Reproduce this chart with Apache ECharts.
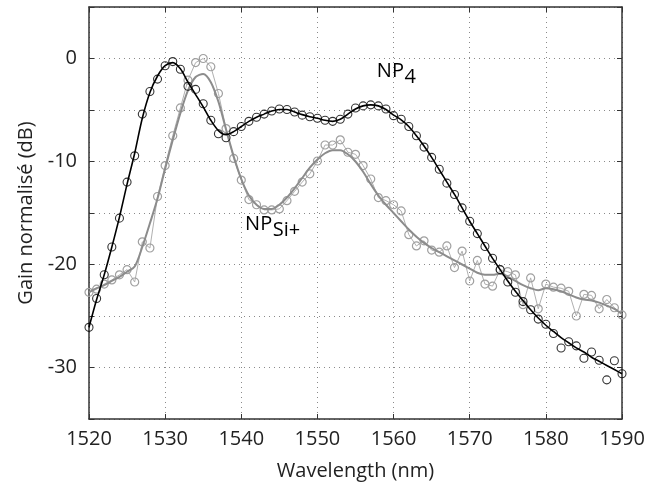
<!DOCTYPE html>
<html>
<head>
<meta charset="utf-8">
<script src="https://cdn.jsdelivr.net/npm/echarts@6/dist/echarts.min.js"></script>
<style>
html,body{margin:0;padding:0;background:#fff;}
#c{width:653px;height:486px;}
</style>
</head>
<body>
<div id="c"></div>
<script>
// Wavelengths (nm), 1 nm steps
var wavelengths = [];
for (var w = 1520; w <= 1590; w++) wavelengths.push(w);

// NP4 measured points (dB)
var np4Markers = [-26.1,-23.3,-21.0,-18.3,-15.5,-12.0,-9.45,-5.4,-3.2,-2.0,
  -0.7,-0.3,-1.05,-2.7,-3.0,-4.4,-6.0,-7.3,-7.7,-7.1,
  -6.6,-6.1,-5.7,-5.4,-5.1,-4.9,-4.95,-5.2,-5.5,-5.65,
  -5.8,-6.0,-6.1,-5.9,-5.4,-4.8,-4.6,-4.5,-4.6,-4.9,
  -5.55,-5.9,-6.6,-7.5,-8.6,-9.6,-10.75,-12.1,-13.2,-14.5,
  -15.8,-17.0,-18.25,-19.4,-20.5,-21.7,-22.7,-23.6,-24.4,-25.3,
  -25.8,-26.7,-28.1,-27.5,-27.9,-29.1,-28.5,-29.3,-31.2,-29.35,
  -30.6];
// NP4 smoothed fit (dB)
var np4Fit = [-26.1,-23.4,-21.0,-18.3,-15.4,-12.2,-9.2,-5.8,-3.3,-1.7,
  -0.7,-0.4,-1.0,-2.3,-3.5,-4.7,-6.0,-7.0,-7.4,-7.1,
  -6.6,-6.1,-5.7,-5.4,-5.1,-4.95,-4.95,-5.2,-5.45,-5.65,
  -5.8,-6.0,-6.1,-5.9,-5.4,-4.9,-4.6,-4.5,-4.6,-4.95,
  -5.5,-5.95,-6.6,-7.5,-8.5,-9.6,-10.8,-12.0,-13.2,-14.5,
  -15.8,-17.0,-18.2,-19.4,-20.5,-21.6,-22.6,-23.5,-24.4,-25.2,
  -25.9,-26.5,-27.1,-27.6,-28.1,-28.5,-29.0,-29.4,-29.8,-30.2,
  -30.6];
// NP Si+ measured points (dB)
var npSiMarkers = [-22.7,-22.4,-21.9,-21.5,-21.0,-20.5,-21.7,-17.8,-18.4,-13.4,
  -10.4,-7.5,-4.8,-2.1,-0.4,0.0,-0.8,-3.4,-6.8,-9.7,
  -11.8,-13.7,-14.2,-14.7,-14.7,-14.6,-13.8,-12.9,-12.0,-11.2,
  -9.95,-8.4,-8.4,-7.9,-9.1,-9.3,-10.4,-11.7,-13.5,-13.8,
  -14.2,-14.8,-17.1,-18.2,-17.7,-18.6,-18.8,-18.2,-20.3,-18.7,
  -21.6,-19.6,-21.9,-22.1,-20.5,-20.7,-21.0,-23.9,-21.3,-24.3,
  -21.9,-22.2,-22.3,-22.6,-25.0,-22.9,-23.0,-24.3,-23.4,-24.2,
  -24.9];
// NP Si+ smoothed fit (dB)
var npSiFit = [-22.7,-22.3,-22.0,-21.6,-21.2,-20.7,-20.2,-18.3,-16.0,-13.6,
  -10.7,-7.9,-5.3,-3.1,-1.8,-1.5,-2.3,-4.2,-6.9,-9.5,
  -11.7,-13.3,-14.2,-14.6,-14.6,-14.2,-13.5,-12.6,-11.6,-10.6,
  -9.8,-9.2,-8.9,-8.9,-9.3,-10.0,-11.0,-12.2,-13.3,-14.2,
  -15.0,-15.8,-16.6,-17.3,-17.9,-18.4,-18.8,-19.2,-19.6,-20.0,
  -20.4,-20.8,-21.0,-21.0,-20.9,-21.2,-21.6,-22.0,-22.3,-22.5,
  -22.3,-22.4,-22.6,-22.9,-23.2,-23.4,-23.5,-23.7,-24.0,-24.3,
  -24.8];

var xTicks = {min: 1520, max: 1590, step: 10};
var yTicks = {min: -35, max: 5, step: 5, labelStep: 10};

var xTitle = 'Wavelength (nm)';
var yTitle = 'Gain normalisé (dB)';
var labelNP4 = ['NP', '4'];
var labelNPSi = ['NP', 'Si+'];
var labelNP4Pos = [1557.8, -1.2];
var labelNPSiPos = [1540.5, -16.1];

function pairs(ys){ return wavelengths.map(function(x,i){ return [x, ys[i]]; }); }

var FONT = '"Open Sans", "Noto Sans", sans-serif';
var frameColor = '#333';
var gridStyle = {type: [1, 4], color: '#8a8a8a', width: 1};

var chart = echarts.init(document.getElementById('c'), null, {renderer: 'canvas'});

var option = {
  animation: false,
  backgroundColor: '#fff',
  grid: {left: 89, right: 31, top: 7, bottom: 59, containLabel: false},
  xAxis: [{
    type: 'value', min: xTicks.min, max: xTicks.max, interval: xTicks.step, position: 'bottom',
    axisLine: {show: true, onZero: false, lineStyle: {color: frameColor, width: 1.5}},
    axisTick: {show: true, inside: true, length: 5, lineStyle: {color: frameColor}},
    axisLabel: {fontSize: 20, color: '#222', margin: 10, fontFamily: FONT,
      formatter: function(v){ return String(v); }},
    splitLine: {show: true, lineStyle: gridStyle},
    name: xTitle, nameLocation: 'middle', nameGap: 42,
    nameTextStyle: {fontSize: 20, color: '#222', fontFamily: FONT}
  }, {
    type: 'value', min: xTicks.min, max: xTicks.max, interval: xTicks.step, position: 'top',
    axisLine: {show: true, onZero: false, lineStyle: {color: frameColor, width: 1.5}},
    axisTick: {show: true, inside: true, length: 5, lineStyle: {color: frameColor}},
    axisLabel: {show: false}, splitLine: {show: false}
  }],
  yAxis: [{
    type: 'value', min: yTicks.min, max: yTicks.max, interval: yTicks.step, position: 'left',
    axisLine: {show: true, onZero: false, lineStyle: {color: frameColor, width: 1.5}},
    axisTick: {show: true, inside: true, length: 5, lineStyle: {color: frameColor}},
    axisLabel: {fontSize: 20, color: '#222', margin: 12, fontFamily: FONT,
      formatter: function(v){ return (v % yTicks.labelStep === 0 && v < yTicks.max && v > yTicks.min) ? String(v) : ''; }},
    splitLine: {show: true, lineStyle: gridStyle},
    name: yTitle, nameLocation: 'middle', nameGap: 52,
    nameTextStyle: {fontSize: 20, color: '#222', fontFamily: FONT}
  }, {
    type: 'value', min: yTicks.min, max: yTicks.max, interval: yTicks.step, position: 'right',
    axisLine: {show: true, onZero: false, lineStyle: {color: frameColor, width: 1.5}},
    axisTick: {show: true, inside: true, length: 5, lineStyle: {color: frameColor}},
    axisLabel: {show: false}, splitLine: {show: false}
  }],
  series: [{
    name: 'NPSi+ points', type: 'line', data: pairs(npSiMarkers),
    symbol: 'circle', symbolSize: 8, showSymbol: true,
    lineStyle: {color: '#b0b0b0', width: 1},
    itemStyle: {color: 'rgba(255,255,255,0)', borderColor: '#a0a0a0', borderWidth: 1.2},
    z: 2
  }, {
    name: 'NPSi+ fit', type: 'line', data: pairs(npSiFit), smooth: 0.3,
    showSymbol: false, symbol: 'none',
    lineStyle: {color: '#8c8c8c', width: 2}, z: 3
  }, {
    name: 'NP4 fit', type: 'line', data: pairs(np4Fit), smooth: 0.3,
    showSymbol: false, symbol: 'none',
    lineStyle: {color: '#000', width: 1.6}, z: 4
  }, {
    name: 'NP4 points', type: 'scatter', data: pairs(np4Markers),
    symbol: 'circle', symbolSize: 8,
    itemStyle: {color: 'rgba(255,255,255,0)', borderColor: '#000', borderWidth: 1.1},
    z: 5
  }]
};
chart.setOption(option);

// annotations with subscripts, placed through data coordinates
var measureCtx = document.createElement('canvas').getContext('2d');
function textW(t, size){ measureCtx.font = size + 'px ' + FONT; return measureCtx.measureText(t).width; }
function subLabel(parts, pos){
  var p = chart.convertToPixel({xAxisIndex: 0, yAxisIndex: 0}, pos);
  var w0 = textW(parts[0], 20);
  return {
    type: 'group', x: p[0], y: p[1],
    children: [
      {type: 'text', x: 0, y: 0, style: {text: parts[0], font: '20px ' + FONT, fill: '#000', textVerticalAlign: 'middle', textAlign: 'left'}},
      {type: 'text', x: w0 + 0.5, y: 6, style: {text: parts[1], font: '20px ' + FONT, fill: '#000', textVerticalAlign: 'middle', textAlign: 'left'}}
    ]
  };
}
chart.setOption({graphic: [subLabel(labelNP4, labelNP4Pos), subLabel(labelNPSi, labelNPSiPos)]});
</script>
</body>
</html>
